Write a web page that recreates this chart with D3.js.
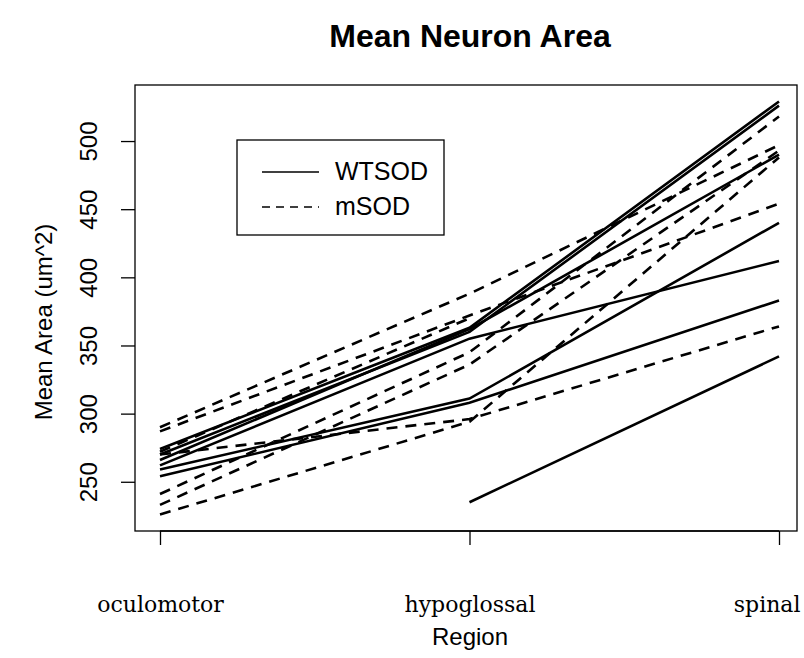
<!DOCTYPE html>
<html>
<head>
<meta charset="utf-8">
<script src="https://cdn.jsdelivr.net/npm/d3@7"></script>
<style>
  body { margin: 0; background: #fff; }
  svg { display: block; }
</style>
</head>
<body>
<div id="plot-box"></div>
<script>
// regions on the x axis
const regions = ["oculomotor", "hypoglossal", "spinal"];
// one row per animal: [oculomotor, hypoglossal, spinal], null = missing
const wtsod = [
    [274, 363, 529],
    [270, 360, 526],
    [266, 362, 490],
    [262, 355, 412],
    [259, 311, 440],
    [254, 308, 383],
    [null, 235, 342]
];
const msod = [
    [290, 388, 497],
    [287, 372, 454],
    [272, 370, null],
    [270, 296, 364],
    [241, 345, 518],
    [233, 336, 493],
    [226, 294, 488]
];
const yTicks = [250, 300, 350, 400, 450, 500];
const groups = ["WTSOD", "mSOD"];

const width = 804, height = 658;
const box = {left: 135, right: 797, top: 85, bottom: 531};

const svg = d3.select("#plot-box")
    .append("svg")
    .attr("width", width)
    .attr("height", height)
    .style("font-family", "'Liberation Sans', Arial, sans-serif");

// y range padded 4% like R
const all = wtsod.concat(msod).flat().filter(v => v != null);
const lo = d3.min(all), hi = d3.max(all), pad = (hi - lo) * 0.04;
const y = d3.scaleLinear()
    .domain([lo - pad, hi + pad])
    .range([box.bottom, box.top]);
const x = d3.scalePoint()
    .domain(regions)
    .range([160, 779]);

const line = d3.line()
    .defined(d => d[1] != null)
    .x(d => x(d[0]))
    .y(d => y(d[1]));

function drawGroup(rows, dash){
    svg.append("g")
        .selectAll("path")
        .data(rows)
        .enter().append("path")
        .attr("d", r => line(r.map((v, i) => [regions[i], v])))
        .attr("fill", "none")
        .attr("stroke", "#000")
        .attr("stroke-width", 2.6)
        .attr("stroke-dasharray", dash);
}
drawGroup(wtsod, null);
drawGroup(msod, "11,8");

// frame
svg.append("rect")
    .attr("x", box.left).attr("y", box.top)
    .attr("width", box.right - box.left)
    .attr("height", box.bottom - box.top)
    .attr("fill", "none").attr("stroke", "#000").attr("stroke-width", 1.3);

// y axis
const yAxis = svg.append("g")
    .attr("transform", `translate(${box.left},0)`)
    .call(d3.axisLeft(y).tickValues(yTicks).tickSize(14).tickFormat(d3.format("d")));
yAxis.select(".domain").remove();
yAxis.selectAll("line").attr("stroke-width", 1.3);
yAxis.selectAll("text")
    .attr("x", 0).attr("dy", 0)
    .attr("transform", "translate(-38,0) rotate(-90)")
    .attr("text-anchor", "middle")
    .attr("font-size", 24)
    .attr("font-family", "'Liberation Sans', Arial, sans-serif")
    .attr("fill", "#000");

// x axis
const xAxis = svg.append("g")
    .attr("transform", `translate(0,${box.bottom})`)
    .call(d3.axisBottom(x).tickSize(14));
xAxis.select(".domain").attr("d", `M${x(regions[0])},0H${x(regions[2])}`).attr("stroke-width", 1.3);
xAxis.selectAll("line").attr("stroke-width", 1.3);
xAxis.selectAll("text")
    .attr("y", 81).attr("dy", 0)
    .attr("font-size", 22)
    .attr("font-family", "'DejaVu Serif', serif")
    .attr("fill", "#000");
// keep the last label inside the page
xAxis.selectAll("text")
    .filter(d => d === regions[regions.length - 1])
    .attr("text-anchor", "end")
    .attr("x", width - 4 - x(regions[regions.length - 1]));

// titles
svg.append("text")
    .attr("x", 470).attr("y", 47)
    .attr("text-anchor", "middle")
    .attr("font-size", 32)
    .attr("font-weight", "bold")
    .text("Mean Neuron Area");
svg.append("text")
    .attr("x", 470).attr("y", 645)
    .attr("text-anchor", "middle")
    .attr("font-size", 24)
    .text("Region");
svg.append("text")
    .attr("transform", `translate(52,${(box.top + box.bottom) / 2 + 14}) rotate(-90)`)
    .attr("text-anchor", "middle")
    .attr("font-size", 24)
    .text("Mean Area (um^2)");

// legend
const leg = svg.append("g").attr("transform", "translate(237,140)");
leg.append("rect")
    .attr("width", 207).attr("height", 95)
    .attr("fill", "#fff").attr("stroke", "#000").attr("stroke-width", 1.3);
groups.forEach((g, i) => {
    const ly = 32 + i * 35;
    leg.append("line")
        .attr("x1", 25).attr("x2", 82)
        .attr("y1", ly).attr("y2", ly)
        .attr("stroke", "#000").attr("stroke-width", 1.5)
        .attr("stroke-dasharray", i ? "8,6" : null);
    leg.append("text")
        .attr("x", 98).attr("y", ly + 8)
        .attr("font-size", 25)
        .text(g);
});
</script>
</body>
</html>
